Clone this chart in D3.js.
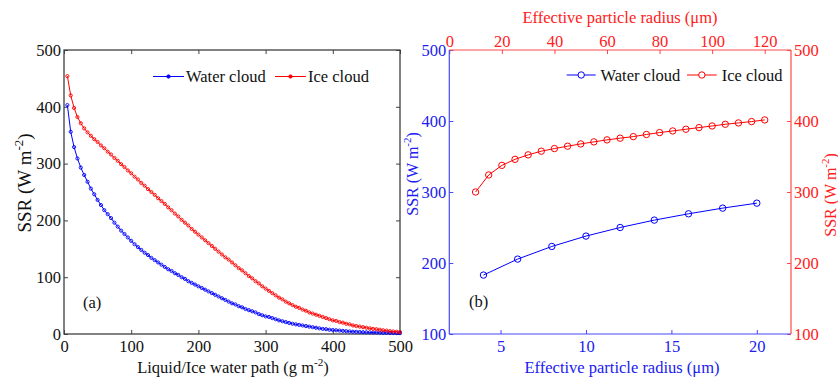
<!DOCTYPE html>
<html><head><meta charset="utf-8">
<script src="https://cdn.jsdelivr.net/npm/d3@7"></script>
<style>
body{margin:0;background:#fff}
text{font-family:"Liberation Serif","Times New Roman",serif}
</style>
</head><body>
<svg id="c" width="838" height="378"></svg>
<script>
// ---------- Panel (a) data ----------
const waterPath = [5,10,15,20,25,30,35,40,45,50,55,60,65,70,75,80,85,90,95,100,
105,110,115,120,125,130,135,140,145,150,155,160,165,170,175,180,185,190,195,200,
205,210,215,220,225,230,235,240,245,250,255,260,265,270,275,280,285,290,295,300,
305,310,315,320,325,330,335,340,345,350,355,360,365,370,375,380,385,390,395,400,
405,410,415,420,425,430,435,440,445,450,455,460,465,470,475,480,485,490,495,500];
const waterCloudA = [403,356,329,309,293,280,268,256,246,236,227,218,211,204,196,189,182,176,170,164,
158,153,148,143,139,134,130,126,122,118,114,111,107,104,100,97,93,90,87,84,
81,78,75,72,69,66,63,60,57,54,52,49,47,44,42,40,38,35,33,31,
30,28,26,24,22.5,21,19.5,18,17,16,15,14,13,12,11,10,9,8.5,7.5,7,
6.5,6,5.5,5,4.5,4,3.8,3.5,3.2,3,2.8,2.6,2.4,2.2,2,1.9,1.8,1.7,1.6,1.5];
const iceCloudA = [454,420,398,382,371,362,355,349,343,338,332,327,321,316,310,305,299,294,288,283,
277,272,266,261,255,250,245,239,234,229,223,218,212,207,201,196,191,185,180,175,
170,165,160,155,150,145,140,135,131,126,121,116,112,107,102,98,93,89,84,80,
76,72,68,64,61,57,54,51,48,46,43,41,38,36,34,32,30,28,26,24,
23,21,20,18,17,15,14,13,12,11,10,9,8.5,7.5,6.5,6,5,4.5,4,3.5];
const ticksAx = [0,100,200,300,400,500];
const ticksAy = [0,100,200,300,400,500];

// ---------- Panel (b) data ----------
const waterRadius = [4,6,8,10,12,14,16,18,20];
const waterCloudB = [183,205.5,223.3,237.9,250,260.4,269.3,277.3,284.3];
const iceRadius = [10,15,20,25,30,35,40,45,50,55,60,65,70,75,80,85,90,95,100,105,110,115,120];
const iceCloudB = [300,324,337.5,346,352.3,357.5,361.2,364.5,367.7,370.6,373.4,375.8,378,381,383.7,386,388.4,390.7,393,395.4,397.3,399.2,401.5];
const ticksBbottom = [5,10,15,20];
const ticksBtop = [0,20,40,60,80,100,120];
const ticksBy = [100,200,300,400,500];
const seriesNames = ["Water cloud","Ice cloud"];

const svg = d3.select("#c");
const FS = 16.5;
const BLUE = "#0000ff", RED = "#ff0000";
const BLUE_T = "#2020f0", RED_T = "#ff2020";

function styleAxis(g, color, width, textColor){
  g.select(".domain").remove();
  g.selectAll(".tick line").attr("stroke", color).attr("stroke-width", width);
  g.selectAll(".tick text").attr("fill", textColor).style("font-size", FS+"px")
    .style("font-family", '"Liberation Serif","Times New Roman",serif');
}
function supLabel(t, before, sup, after, size){
  t.append("tspan").text(before);
  t.append("tspan").text(sup).attr("dy", -size*0.42).style("font-size",(size*0.68)+"px");
  t.append("tspan").text(after).attr("dy", size*0.42);
}

// ================= Panel (a) =================
const ax = d3.scaleLinear().domain([0,500]).range([64,400]);
const ay = d3.scaleLinear().domain([0,500]).range([334,50]);
const AC = "#404040";
const TK = 4;

svg.append("g").attr("transform","translate(0,334)")
  .call(d3.axisBottom(ax).tickValues(ticksAx).tickSize(-TK).tickSizeOuter(0).tickPadding(6))
  .call(g=>styleAxis(g,AC,1,"#111"));
svg.append("g").attr("transform","translate(0,50)")
  .call(d3.axisTop(ax).tickValues(ticksAx).tickSize(-TK).tickSizeOuter(0).tickFormat(""))
  .call(g=>styleAxis(g,AC,1,"#111"));
svg.append("g").attr("transform","translate(64,0)")
  .call(d3.axisLeft(ay).tickValues(ticksAy).tickSize(-TK).tickSizeOuter(0).tickPadding(3))
  .call(g=>styleAxis(g,AC,1,"#111"));
svg.append("g").attr("transform","translate(400,0)")
  .call(d3.axisRight(ay).tickValues(ticksAy).tickSize(-TK).tickSizeOuter(0).tickFormat(""))
  .call(g=>styleAxis(g,AC,1,"#111"));
svg.append("rect").attr("x",ax(0)).attr("y",ay(500)).attr("width",ax(500)-ax(0)).attr("height",ay(0)-ay(500))
  .attr("fill","none").attr("stroke",AC).attr("stroke-width",1.3);

const lineA = d3.line().x((d,i)=>ax(waterPath[i])).y(d=>ay(d));
[[waterCloudA,BLUE],[iceCloudA,RED]].forEach(([vals,col])=>{
  svg.append("path").attr("d",lineA(vals)).attr("fill","none").attr("stroke",col).attr("stroke-width",1);
  svg.append("g").selectAll("circle").data(vals).join("circle")
    .attr("cx",(d,i)=>ax(waterPath[i])).attr("cy",d=>ay(d)).attr("r",1.6)
    .attr("fill","none").attr("stroke",col).attr("stroke-width",0.9);
});

// legend (a)
const legA = [{x1:153,x2:184,tx:186,col:BLUE,name:seriesNames[0]},{x1:275,x2:306,tx:308,col:RED,name:seriesNames[1]}];
legA.forEach(l=>{
  svg.append("line").attr("x1",l.x1).attr("x2",l.x2).attr("y1",76.5).attr("y2",76.5).attr("stroke",l.col).attr("stroke-width",1);
  svg.append("circle").attr("cx",(l.x1+l.x2)/2).attr("cy",76.5).attr("r",1.8).attr("fill",l.col).attr("stroke",l.col).attr("stroke-width",0.6);
  svg.append("text").attr("x",l.tx).attr("y",82).style("font-size",FS+"px").attr("fill","#111").text(l.name);
});
svg.append("text").attr("x",83).attr("y",308).style("font-size",FS+"px").attr("fill","#111").text("(a)");

// axis titles (a)
const xtA = svg.append("text").attr("x",233).attr("y",373).attr("text-anchor","middle").style("font-size",FS+"px").attr("fill","#111");
supLabel(xtA,"Liquid/Ice water path (g m","-2",")",FS);
const ytA = svg.append("text").attr("transform","translate(31,183) rotate(-90)").attr("text-anchor","middle").style("font-size","19px").attr("fill","#111");
supLabel(ytA,"SSR (W m","-2",")",19);

// ================= Panel (b) =================
const bx = d3.scaleLinear().domain([2,22]).range([449.3,791]);
const bxTop = d3.scaleLinear().domain([0,130]).range([449.3,791]);
const by = d3.scaleLinear().domain([100,500]).range([334,50]);
const byR = d3.scaleLinear().domain([100,500]).range([334,50]);
const BA = "#4848ff", RA = "#ff4848";

svg.append("g").attr("transform","translate(0,334)")
  .call(d3.axisBottom(bx).tickValues(ticksBbottom).tickSize(-TK).tickSizeOuter(0).tickPadding(6))
  .call(g=>styleAxis(g,BA,1,BLUE_T));
svg.append("g").attr("transform","translate(0,50)")
  .call(d3.axisTop(bxTop).tickValues(ticksBtop).tickSize(-TK).tickSizeOuter(0).tickPadding(3))
  .call(g=>styleAxis(g,RA,1,RED_T));
svg.append("g").attr("transform","translate(449.3,0)")
  .call(d3.axisLeft(by).tickValues(ticksBy).tickSize(-TK).tickSizeOuter(0).tickPadding(3))
  .call(g=>styleAxis(g,BA,1,BLUE_T));
svg.append("g").attr("transform","translate(791,0)")
  .call(d3.axisRight(byR).tickValues(ticksBy).tickSize(-TK).tickSizeOuter(0).tickPadding(3))
  .call(g=>styleAxis(g,RA,1,RED_T));
// axis lines
svg.append("line").attr("x1",449.3).attr("x2",791).attr("y1",334).attr("y2",334).attr("stroke",BA).attr("stroke-width",1.2);
svg.append("line").attr("x1",449.3).attr("x2",449.3).attr("y1",50).attr("y2",334).attr("stroke",BA).attr("stroke-width",1.2);
svg.append("line").attr("x1",449.3).attr("x2",791).attr("y1",50).attr("y2",50).attr("stroke",RA).attr("stroke-width",1.2);
svg.append("line").attr("x1",791).attr("x2",791).attr("y1",50).attr("y2",334).attr("stroke",RA).attr("stroke-width",1.2);

const lineBw = d3.line().x((d,i)=>bx(waterRadius[i])).y(d=>by(d));
const lineBi = d3.line().x((d,i)=>bxTop(iceRadius[i])).y(d=>byR(d));
svg.append("path").attr("d",lineBw(waterCloudB)).attr("fill","none").attr("stroke",BLUE).attr("stroke-width",1);
svg.append("g").selectAll("circle").data(waterCloudB).join("circle")
  .attr("cx",(d,i)=>bx(waterRadius[i])).attr("cy",d=>by(d)).attr("r",3.2)
  .attr("fill","none").attr("stroke",BLUE).attr("stroke-width",1);
svg.append("path").attr("d",lineBi(iceCloudB)).attr("fill","none").attr("stroke",RED).attr("stroke-width",1);
svg.append("g").selectAll("circle").data(iceCloudB).join("circle")
  .attr("cx",(d,i)=>bxTop(iceRadius[i])).attr("cy",d=>byR(d)).attr("r",3.2)
  .attr("fill","none").attr("stroke",RED).attr("stroke-width",1);

// legend (b)
const legB = [{x1:566.7,x2:595.7,tx:600.5,col:BLUE,name:seriesNames[0]},{x1:687,x2:716.7,tx:721.7,col:RED,name:seriesNames[1]}];
legB.forEach(l=>{
  svg.append("line").attr("x1",l.x1).attr("x2",l.x2).attr("y1",75).attr("y2",75).attr("stroke",l.col).attr("stroke-width",1);
  svg.append("circle").attr("cx",(l.x1+l.x2)/2).attr("cy",75).attr("r",3.2).attr("fill","#fff").attr("stroke",l.col).attr("stroke-width",1);
  svg.append("text").attr("x",l.tx).attr("y",81).style("font-size",FS+"px").attr("fill","#111").text(l.name);
});
svg.append("text").attr("x",469).attr("y",307).style("font-size",FS+"px").attr("fill","#111").text("(b)");

// axis titles (b)
svg.append("text").attr("x",620).attr("y",23).attr("text-anchor","middle").style("font-size",FS+"px").attr("fill",RED_T).text("Effective particle radius (μm)");
svg.append("text").attr("x",622).attr("y",373).attr("text-anchor","middle").style("font-size",FS+"px").attr("fill",BLUE_T).text("Effective particle radius (μm)");
const ytBl = svg.append("text").attr("transform","translate(418,174) rotate(-90)").attr("text-anchor","middle").style("font-size","16px").attr("fill",BLUE_T);
supLabel(ytBl,"SSR (W m","-2",")",16);
const ytBr = svg.append("text").attr("transform","translate(836,195) rotate(-90)").attr("text-anchor","middle").style("font-size","16px").attr("fill",RED_T);
supLabel(ytBr,"SSR (W m","-2",")",16);
</script>
</body></html>
